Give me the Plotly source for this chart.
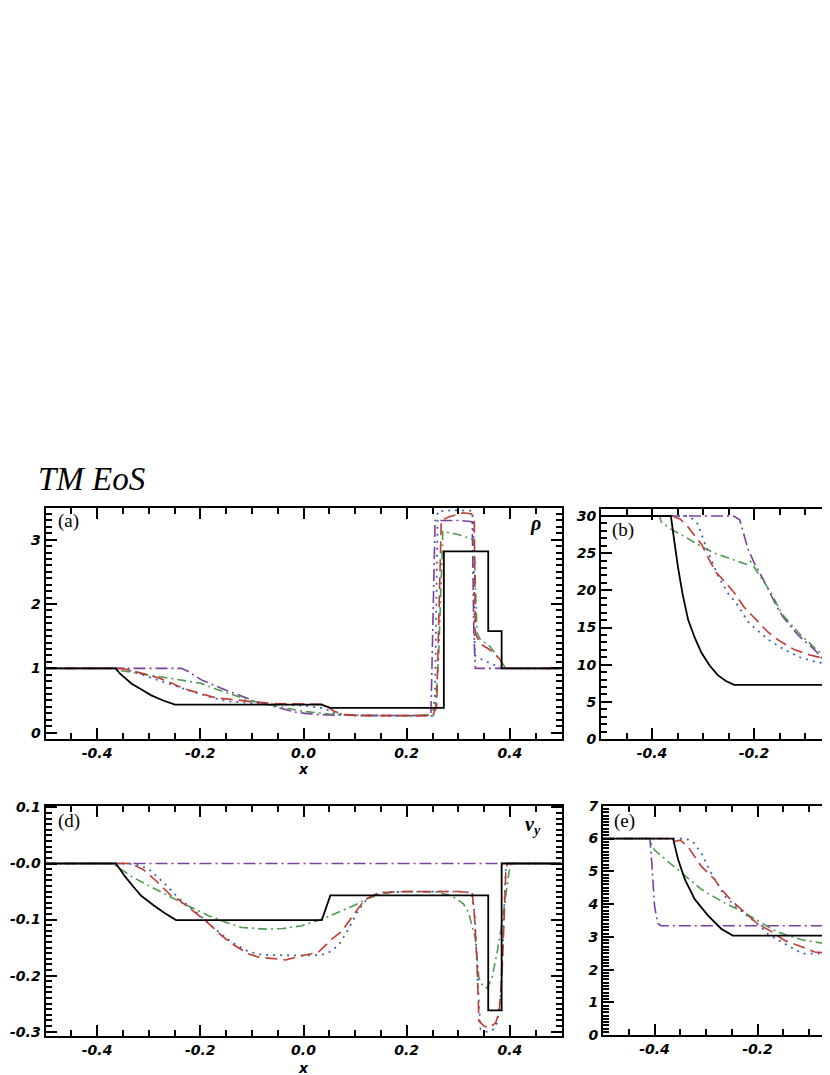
import plotly.graph_objects as go

# --- data --------------------------------------------------------------
# (a) density
rho_exact_x = [-0.5, -0.364, -0.356, -0.346, -0.333, -0.314, -0.295, -0.272, -0.249, 0.035, 0.052,
               0.272, 0.272, 0.358, 0.358, 0.384, 0.384, 0.5]
rho_exact_y = [1.0, 1.0, 0.92, 0.85, 0.76, 0.67, 0.58, 0.50, 0.437, 0.437, 0.385,
               0.385, 2.82, 2.82, 1.58, 1.58, 1.0, 1.0]
rho_red_x = [-0.5, -0.355, -0.33, -0.30, -0.28, -0.255, -0.235, -0.20, -0.17, -0.13, -0.10, -0.05, 0.0,
             0.04, 0.06, 0.08, 0.12, 0.25, 0.258, 0.267, 0.28, 0.31, 0.326, 0.331, 0.333, 0.343,
             0.355, 0.366, 0.382, 0.388, 0.5]
rho_red_y = [1.0, 1.0, 0.96, 0.90, 0.85, 0.77, 0.69, 0.61, 0.54, 0.51, 0.48, 0.45, 0.45,
             0.44, 0.33, 0.28, 0.265, 0.265, 0.4, 3.3, 3.35, 3.42, 3.4, 3.3, 1.54, 1.38,
             1.32, 1.26, 1.13, 1.0, 1.0]
rho_blue_x = [-0.5, -0.35, -0.32, -0.29, -0.26, -0.22, -0.18, -0.15, -0.10, -0.05, 0.0, 0.04, 0.06,
              0.10, 0.25, 0.255, 0.26, 0.29, 0.326, 0.329, 0.332, 0.35, 0.37, 0.386, 0.5]
rho_blue_y = [1.0, 1.0, 0.92, 0.84, 0.75, 0.65, 0.55, 0.49, 0.46, 0.44, 0.42, 0.38, 0.30,
              0.265, 0.26, 0.6, 3.44, 3.46, 3.45, 3.3, 1.2, 1.12, 1.06, 1.0, 1.0]
rho_green_x = [-0.5, -0.365, -0.359, -0.32, -0.281, -0.243, -0.20, -0.17, -0.13, -0.10, -0.05, 0.0,
               0.05, 0.10, 0.20, 0.255, 0.262, 0.27, 0.30, 0.33, 0.3365, 0.343, 0.359, 0.375,
               0.392, 0.5]
rho_green_y = [1.0, 1.0, 0.97, 0.92, 0.87, 0.82, 0.77, 0.68, 0.57, 0.49, 0.41, 0.33,
               0.29, 0.27, 0.265, 0.28, 1.2, 3.13, 3.08, 3.0, 1.55, 1.44, 1.36, 1.2,
               1.0, 1.0]
rho_purple_x = [-0.5, -0.237, -0.223, -0.198, -0.15, -0.113, -0.094, -0.05, -0.016, 0.003, 0.03,
                0.07, 0.236, 0.247, 0.25, 0.255, 0.30, 0.327, 0.330, 0.333, 0.5]
rho_purple_y = [1.0, 1.0, 0.95, 0.82, 0.66, 0.54, 0.49, 0.39, 0.32, 0.30, 0.28,
                0.27, 0.265, 0.28, 1.5, 3.3, 3.3, 3.28, 1.6, 1.0, 1.0]

# (b)
p_exact_x = [-0.5, -0.363, -0.356, -0.349, -0.34, -0.329, -0.316, -0.303, -0.287, -0.271, -0.255, -0.239, -0.02]
p_exact_y = [30, 30, 26.5, 23.1, 19.5, 16.0, 13.6, 11.6, 9.9, 8.6, 7.8, 7.3, 7.3]
p_red_x = [-0.5, -0.36, -0.345, -0.33, -0.316, -0.303, -0.287, -0.274, -0.254, -0.238, -0.22, -0.20,
           -0.173, -0.15, -0.12, -0.095, -0.07, -0.055, -0.02]
p_red_y = [30, 30, 29.6, 28.6, 27.3, 26.2, 24.0, 22.4, 20.9, 19.6, 17.8, 16.4,
           14.4, 13.2, 12.0, 11.4, 10.9, 10.7, 10.6]
p_blue_x = [-0.5, -0.33, -0.32, -0.31, -0.297, -0.284, -0.271, -0.251, -0.235, -0.212, -0.195, -0.17,
            -0.14, -0.11, -0.08, -0.055, -0.02]
p_blue_y = [30, 30, 29.6, 28.9, 26.4, 24.2, 22.0, 19.6, 18.3, 15.8, 14.7, 13.3,
            12.0, 11.0, 10.4, 10.1, 10.0]
p_green_x = [-0.5, -0.385, -0.382, -0.362, -0.343, -0.303, -0.277, -0.238, -0.215, -0.207, -0.195,
             -0.182, -0.165, -0.149, -0.14, -0.11, -0.08, -0.055, -0.02]
p_green_y = [30, 30, 29.2, 28.2, 27.5, 25.9, 25.0, 24.0, 23.5, 23.9, 22.6,
             21.3, 19.5, 17.3, 16.4, 14.1, 12.2, 10.8, 9.4]
p_purple_x = [-0.5, -0.24, -0.228, -0.212, -0.199, -0.182, -0.156, -0.143, -0.114, -0.081, -0.055,
              -0.045, -0.02]
p_purple_y = [30, 30, 29.5, 25.6, 23.6, 21.5, 17.9, 16.4, 14.0, 12.0, 9.9,
              8.2, 6.0]

# (d) v_y
vy_exact_x = [-0.5, -0.364, -0.355, -0.346, -0.33, -0.314, -0.29, -0.27, -0.247, 0.0355, 0.052,
              0.358, 0.358, 0.384, 0.384, 0.5]
vy_exact_y = [0, 0, -0.011, -0.023, -0.041, -0.058, -0.075, -0.088, -0.101, -0.101, -0.057,
              -0.057, -0.262, -0.262, 0, 0]
vy_red_x = [-0.5, -0.335, -0.31, -0.288, -0.256, -0.243, -0.21, -0.19, -0.159, -0.139, -0.107, -0.087,
            -0.055, -0.035, -0.01, 0.01, 0.029, 0.055, 0.074, 0.1, 0.12, 0.146, 0.2, 0.3, 0.327,
            0.331, 0.336, 0.34, 0.35, 0.359, 0.372, 0.379, 0.385, 0.392, 0.395, 0.5]
vy_red_y = [0, 0, -0.011, -0.029, -0.058, -0.064, -0.0875, -0.102, -0.128, -0.143, -0.161, -0.167,
            -0.170, -0.172, -0.166, -0.162, -0.158, -0.135, -0.121, -0.0875, -0.064, -0.052, -0.05,
            -0.05, -0.052, -0.09, -0.17, -0.281, -0.29, -0.293, -0.285, -0.266, -0.193, -0.017, 0, 0]
vy_blue_x = [-0.5, -0.34, -0.32, -0.30, -0.27, -0.243, -0.204, -0.171, -0.14, -0.107, -0.08, -0.04,
             0.0, 0.035, 0.05, 0.068, 0.087, 0.107, 0.126, 0.15, 0.2, 0.3, 0.325, 0.332, 0.337,
             0.343, 0.355, 0.366, 0.375, 0.382, 0.388, 0.392, 0.395, 0.5]
vy_blue_y = [0, 0, -0.003, -0.01, -0.035, -0.061, -0.09, -0.117, -0.14, -0.157, -0.163, -0.164,
             -0.164, -0.163, -0.158, -0.146, -0.117, -0.082, -0.060, -0.052, -0.05, -0.05, -0.052,
             -0.09, -0.2, -0.295, -0.30, -0.298, -0.285, -0.24, -0.08, -0.01, 0, 0]
vy_green_x = [-0.5, -0.37, -0.33, -0.29, -0.236, -0.184, -0.15, -0.12, -0.074, -0.04, -0.003, 0.04,
              0.074, 0.1, 0.12, 0.145, 0.171, 0.2, 0.26, 0.288, 0.31, 0.32, 0.333, 0.34, 0.348,
              0.356, 0.365, 0.375, 0.385, 0.398, 0.402, 0.5]
vy_green_y = [0, 0, -0.025, -0.044, -0.07, -0.093, -0.105, -0.114, -0.117, -0.116, -0.111, -0.098,
              -0.085, -0.074, -0.064, -0.056, -0.051, -0.050, -0.051, -0.058, -0.072, -0.0875,
              -0.134, -0.205, -0.22, -0.222, -0.205, -0.16, -0.105, -0.017, 0, 0]
vy_purple_x = [-0.5, 0.5]
vy_purple_y = [0, 0]

# (e)
e_exact_x = [-0.5, -0.364, -0.354, -0.341, -0.322, -0.296, -0.27, -0.248, -0.02]
e_exact_y = [6, 6, 5.35, 4.75, 4.15, 3.65, 3.24, 3.04, 3.04]
e_red_x = [-0.5, -0.367, -0.36, -0.35, -0.335, -0.322, -0.309, -0.283, -0.27, -0.25, -0.225, -0.199,
           -0.176, -0.147, -0.121, -0.1, -0.089, -0.06, -0.02]
e_red_y = [6, 6, 5.92, 5.95, 5.75, 5.45, 5.15, 4.75, 4.45, 4.1, 3.74, 3.39,
           3.19, 2.89, 2.74, 2.6, 2.54, 2.5, 2.49]
e_blue_x = [-0.5, -0.34, -0.325, -0.309, -0.29, -0.264, -0.24, -0.212, -0.196, -0.18, -0.163, -0.125,
            -0.11, -0.02]
e_blue_y = [6, 6, 5.9, 5.55, 4.95, 4.25, 3.9, 3.54, 3.34, 3.09, 2.94, 2.59,
            2.49, 2.48]
e_green_x = [-0.5, -0.41, -0.405, -0.40, -0.374, -0.348, -0.309, -0.26, -0.23, -0.20, -0.17, -0.14,
             -0.11, -0.08, -0.05, -0.02]
e_green_y = [6, 6, 5.8, 5.65, 5.3, 4.95, 4.45, 4.0, 3.78, 3.5, 3.22, 3.03,
             2.9, 2.82, 2.79, 2.78]
e_purple_x = [-0.5, -0.409, -0.405, -0.402, -0.40, -0.396, -0.393, -0.388, -0.02]
e_purple_y = [6, 6, 5.2, 4.5, 3.95, 3.6, 3.4, 3.34, 3.34]

# --- styles ---------------------------------------------------------------
styles = {
    'purple': dict(color='#7b3f9e', width=1.6, dash='12px,4px,2px,4px'),
    'green': dict(color='#4f9a4f', width=1.6, dash='9px,4px,2px,4px'),
    'blue': dict(color='#3f63b3', width=1.8, dash='2px,5px'),
    'red': dict(color='#c23a32', width=1.6, dash='12px,6px'),
    'exact': dict(color='black', width=1.8),
}

panels = [
    ('x', 'y', {'purple': (rho_purple_x, rho_purple_y), 'green': (rho_green_x, rho_green_y),
                'blue': (rho_blue_x, rho_blue_y), 'red': (rho_red_x, rho_red_y),
                'exact': (rho_exact_x, rho_exact_y)}),
    ('x2', 'y2', {'purple': (p_purple_x, p_purple_y), 'green': (p_green_x, p_green_y),
                  'blue': (p_blue_x, p_blue_y), 'red': (p_red_x, p_red_y),
                  'exact': (p_exact_x, p_exact_y)}),
    ('x3', 'y3', {'purple': (vy_purple_x, vy_purple_y), 'green': (vy_green_x, vy_green_y),
                  'blue': (vy_blue_x, vy_blue_y), 'red': (vy_red_x, vy_red_y),
                  'exact': (vy_exact_x, vy_exact_y)}),
    ('x4', 'y4', {'purple': (e_purple_x, e_purple_y), 'green': (e_green_x, e_green_y),
                  'blue': (e_blue_x, e_blue_y), 'red': (e_red_x, e_red_y),
                  'exact': (e_exact_x, e_exact_y)}),
]

fig = go.Figure()
for xa, ya, series in panels:
    for name in ['purple', 'green', 'blue', 'red', 'exact']:
        xs, ys = series[name]
        fig.add_trace(go.Scatter(x=xs, y=ys, mode='lines', line=styles[name],
                                 xaxis=xa, yaxis=ya, showlegend=False, hoverinfo='skip'))

tick_font = dict(family='DejaVu Sans', size=14, color='black', weight='bold', style='italic')

# plain hyphen instead of plotly's unicode minus, as in the original
minus_alias = {'\u22120.1': '-0.1', '\u22120.2': '-0.2', '\u22120.3': '-0.3', '\u22120.4': '-0.4'}


def axis(domain, anchor, rng, step, minor_step, fmt, mirror, alias=None):
    return dict(domain=domain, anchor=anchor, range=rng, tickmode='linear', tick0=0, dtick=step,
                tickformat=fmt, labelalias=alias or minus_alias,
                ticks='inside', ticklen=11, tickwidth=2, tickcolor='black',
                showline=True, linewidth=2, linecolor='black', mirror=mirror, showgrid=False,
                zeroline=False, tickfont=tick_font,
                minor=dict(ticks='inside', tick0=0, dtick=minor_step, ticklen=6, tickwidth=1.5,
                           tickcolor='black', showgrid=False))


W, H = 830, 1075
left_dom = [37.5 / W, 553.5 / W]
a_dom = [1 - 734 / H, 1 - 499 / H]
b_xdom, b_ydom = [593 / W, 1], [1 - 734 / H, 1 - 500 / H]
d_dom = [1 - 1035.6 / H, 1 - 801.7 / H]
e_xdom, e_ydom = [595 / W, 1], [1 - 1034.6 / H, 1 - 801.7 / H]
b_xr = [-0.5, -0.5 + 237 / 510]
e_xr = [-0.5, -0.5 + 235 / 515]
vy_alias = dict(minus_alias, **{'0.0': '-0.0', '\u22120.0': '-0.0'})

fig.update_layout(
    width=W, height=H, margin=dict(l=0, r=0, t=0, b=0),
    paper_bgcolor='white', plot_bgcolor='white',
    xaxis=axis(left_dom, 'y', [-0.5, 0.5], 0.2, 0.05, '.1f', 'ticks'),
    yaxis=axis(a_dom, 'x', [-0.1, 3.5], 1, 0.1, 'd', 'ticks'),
    xaxis2=axis(b_xdom, 'y2', b_xr, 0.2, 0.05, '.1f', 'ticks'),
    yaxis2=axis(b_ydom, 'x2', [0, 31], 5, 1, 'd', False),
    xaxis3=axis(left_dom, 'y3', [-0.5, 0.5], 0.2, 0.05, '.1f', 'ticks'),
    yaxis3=axis(d_dom, 'x3', [-0.308, 0.103], 0.1, 0.01, '.1f', 'ticks', vy_alias),
    xaxis4=axis(e_xdom, 'y4', e_xr, 0.2, 0.05, '.1f', 'ticks'),
    yaxis4=axis(e_ydom, 'x4', [0, 7], 1, 0.1, 'd', False),
)

serif = 'Liberation Serif'
label_font = dict(family=serif, size=19, color='black')
sym_font = dict(family=serif, size=20, color='black', weight='bold', style='italic')
x_font = dict(family='DejaVu Sans', size=14, color='black', weight='bold', style='italic')

annotations = [
    dict(text='TM EoS', xref='paper', yref='paper', x=28 / W, y=1 - 470 / H, xanchor='left', yanchor='middle',
         showarrow=False, font=dict(family=serif, size=33, color='black', style='italic')),
    dict(text='(a)', xref='x domain', yref='y domain', x=0.02, y=0.94, xanchor='left', yanchor='middle',
         showarrow=False, font=label_font),
    dict(text='ρ', xref='x domain', yref='y domain', x=0.95, y=0.93, xanchor='center', yanchor='middle',
         showarrow=False, font=sym_font),
    dict(text='(b)', xref='x2 domain', yref='y2 domain', x=0.04, y=0.905, xanchor='left', yanchor='middle',
         showarrow=False, font=label_font),
    dict(text='(d)', xref='x3 domain', yref='y3 domain', x=0.02, y=0.935, xanchor='left', yanchor='middle',
         showarrow=False, font=label_font),
    dict(text='v<sub>y</sub>', xref='x3 domain', yref='y3 domain', x=0.945, y=0.915, xanchor='center',
         yanchor='middle', showarrow=False, font=sym_font),
    dict(text='(e)', xref='x4 domain', yref='y4 domain', x=0.04, y=0.935, xanchor='left', yanchor='middle',
         showarrow=False, font=label_font),
    dict(text='x', xref='x domain', yref='paper', x=0.5, y=1 - 764 / H, xanchor='center', yanchor='middle',
         showarrow=False, font=x_font),
    dict(text='x', xref='x3 domain', yref='paper', x=0.5, y=1 - 1068 / H, xanchor='center', yanchor='middle',
         showarrow=False, font=x_font),
]
fig.update_layout(annotations=annotations)

fig.write_html('out.html')
